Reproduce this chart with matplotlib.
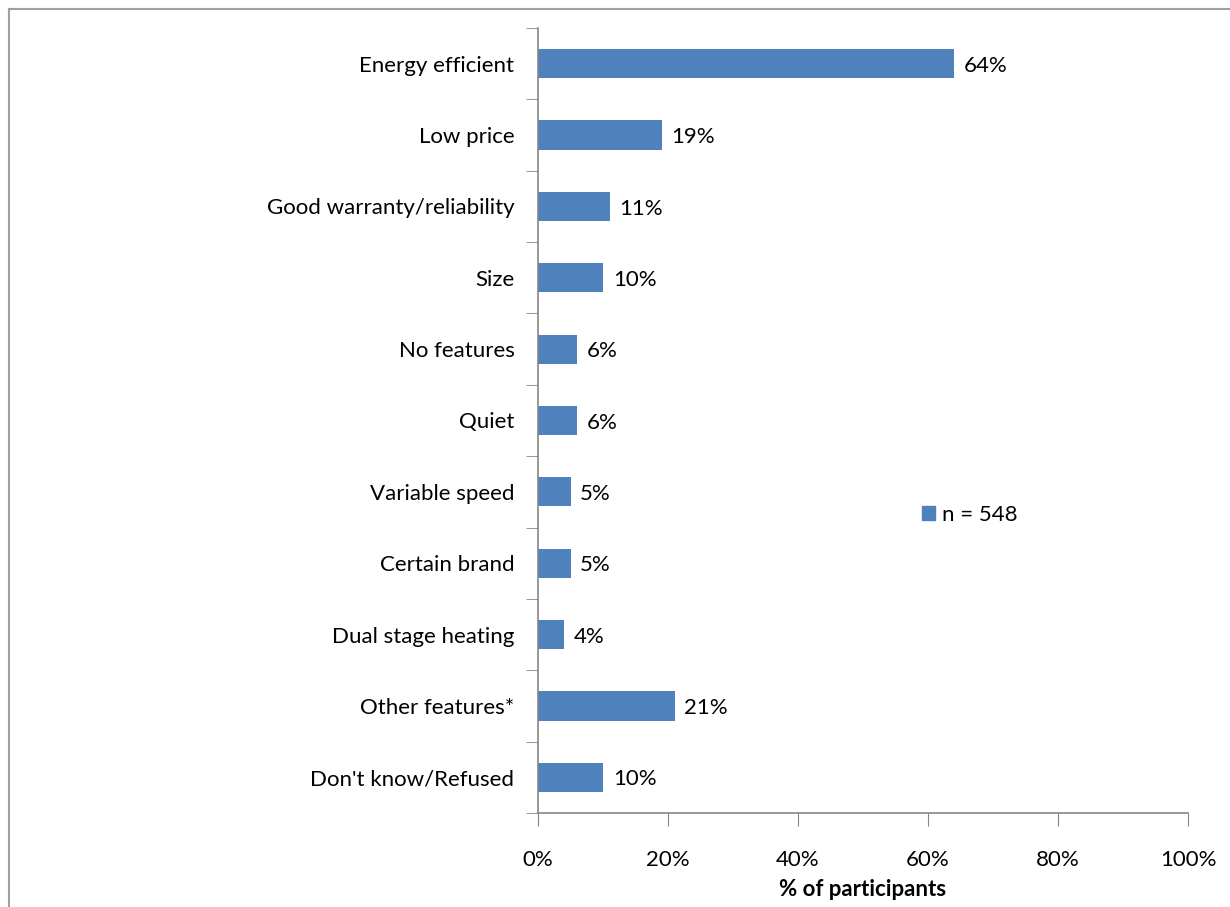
import matplotlib.pyplot as plt
import matplotlib.patches as mpatches

categories = ["Energy efficient", "Low price", "Good warranty/reliability", "Size",
              "No features", "Quiet", "Variable speed", "Certain brand",
              "Dual stage heating", "Other features*", "Don't know/Refused"]
values = [64, 19, 11, 10, 6, 6, 5, 5, 4, 21, 10]
xticks = [0, 20, 40, 60, 80, 100]

plt.rcParams['font.family'] = ['Lato', 'DejaVu Sans']
bar_color = "#4F81BD"
axis_color = "#868686"
fs = 16

fig = plt.figure(figsize=(12.3, 9.07), dpi=100)
ax = fig.add_axes([538/1230, 1 - 813/907, 650/1230, 785/907])

pos = list(range(len(categories)))
ax.barh(pos, values, height=0.41, color=bar_color)
for p, v in zip(pos, values):
    ax.text(v + 1.5, p + 0.03, f"{v}%", va="center", ha="left", fontsize=fs)

ax.set_xlim(0, 100)
ax.set_ylim(len(categories) - 0.5, -0.5)
ax.set_xticks(xticks)
ax.set_xticklabels([f"{t}%" for t in xticks], fontsize=fs)
ax.set_yticks(pos)
ax.set_yticklabels(categories, fontsize=fs)
ax.tick_params(axis="y", length=0, pad=17)
ax.tick_params(axis="x", length=9, color=axis_color, pad=18)
# boundary ticks between categories on the y axis
ax.set_yticks([p - 0.5 for p in pos] + [len(categories) - 0.5], minor=True)
ax.tick_params(axis="y", which="minor", length=9, color=axis_color)

for s in ["top", "right"]:
    ax.spines[s].set_visible(False)
for s in ["left", "bottom"]:
    ax.spines[s].set_color(axis_color)
    ax.spines[s].set_linewidth(1.2)

ax.set_xlabel("% of participants", fontsize=fs, fontweight="bold", labelpad=6)

handle = mpatches.Patch(color=bar_color, label="n = 548")
ax.legend(handles=[handle], loc="center left", bbox_to_anchor=(0.56, 0.38),
          frameon=False, fontsize=fs, handlelength=0.6, handleheight=0.6,
          handletextpad=0.3)

# outer chart frame
fig.add_artist(plt.Line2D([9/1230, 9/1230], [0, 1 - 9/907], color="#A0A0A0",
                          lw=1.5, transform=fig.transFigure))
fig.add_artist(plt.Line2D([9/1230, 1], [1 - 9/907, 1 - 9/907], color="#A0A0A0",
                          lw=1.5, transform=fig.transFigure))

fig.savefig("out.png", dpi=100)
